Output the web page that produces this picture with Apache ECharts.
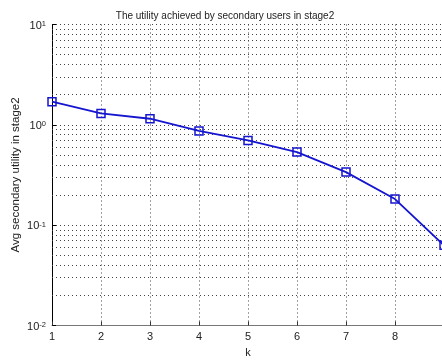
<!DOCTYPE html>
<html><head><meta charset="utf-8">
<script src="https://cdn.jsdelivr.net/npm/echarts@6/dist/echarts.min.js"></script>
<style>html,body{margin:0;padding:0;background:#fff}#c{width:442px;height:360px}</style>
</head><body><div id="c"></div>
<script>
var kValues = [1, 2, 3, 4, 5, 6, 7, 8, 9];
var avgUtility = [1.70, 1.30, 1.15, 0.87, 0.70, 0.535, 0.338, 0.182, 0.063];
var xTicks = [1, 2, 3, 4, 5, 6, 7, 8, 9];
var yMajorTicks = [0.01, 0.1, 1, 10];
var yMinorTicks = [0.02, 0.03, 0.04, 0.05, 0.06, 0.07, 0.08, 0.09,
                   0.2, 0.3, 0.4, 0.5, 0.6, 0.7, 0.8, 0.9,
                   2, 3, 4, 5, 6, 7, 8, 9];
var titleText = 'The utility achieved by secondary users in stage2';
var xName = 'k';
var yName = 'Avg secondary utility in stage2';

var font = 'Liberation Sans, Arial, sans-serif';
var dot = { color: '#444', width: 1, type: [1, 3] };
var chart = echarts.init(document.getElementById('c'), null, { renderer: 'canvas' });
chart.setOption({
  animation: false,
  backgroundColor: '#fff',
  title: {
    text: titleText, left: 220, top: 6, textAlign: 'center',
    textStyle: { fontFamily: font, fontSize: 10, fontWeight: 'normal', color: '#222' }
  },
  grid: { left: 52, width: 392, top: 24.5, bottom: 34.5, outerBoundsMode: 'none' },
  xAxis: {
    type: 'value', min: xTicks[0], max: xTicks[xTicks.length - 1], interval: 1,
    name: xName, nameLocation: 'middle', nameGap: 20,
    nameTextStyle: { fontFamily: font, fontSize: 11, color: '#222' },
    axisLine: { lineStyle: { color: '#777', width: 1 } },
    axisTick: { inside: true, length: 4, lineStyle: { color: '#333' } },
    axisLabel: { fontFamily: font, fontSize: 11, color: '#222', margin: 6, showMaxLabel: false },
    splitLine: { show: true, lineStyle: dot }
  },
  yAxis: {
    type: 'log', logBase: 10, min: yMajorTicks[0], max: yMajorTicks[yMajorTicks.length - 1],
    name: yName, nameLocation: 'middle', nameGap: 30, nameMoveOverlap: false,
    nameTextStyle: { fontFamily: font, fontSize: 11.5, color: '#222' },
    axisLine: { show: true, onZero: false, lineStyle: { color: '#000', width: 1 } },
    axisTick: { inside: true, length: 4, lineStyle: { color: '#000' } },
    axisLabel: {
      margin: 6,
      padding: [2, 0, 0, 0],
      formatter: function (v) {
        var e = Math.round(Math.log10(v));
        return '{b|10}{s|' + e + '}';
      },
      rich: {
        b: { fontFamily: font, fontSize: 11, color: '#222', verticalAlign: 'bottom', lineHeight: 11 },
        s: { fontFamily: font, fontSize: 7.5, color: '#222', verticalAlign: 'top', lineHeight: 8, padding: [0, 0, 7, 0] }
      }
    },
    splitLine: { show: true, lineStyle: dot }
  },
  series: [{
    type: 'line',
    data: kValues.map(function (k, i) { return [k, avgUtility[i]]; }),
    symbol: 'rect', symbolSize: 8,
    lineStyle: { color: '#1515d0', width: 1.8 },
    itemStyle: { color: 'rgba(0,0,0,0)', borderColor: '#1515d0', borderWidth: 1.5 },
    clip: false,
    z: 5,
    markLine: {
      silent: true, symbol: 'none', label: { show: false },
      lineStyle: dot,
      animation: false,
      data: yMinorTicks.map(function (v) { return { yAxis: v }; }),
      z: 1
    }
  }]
});
</script></body></html>
